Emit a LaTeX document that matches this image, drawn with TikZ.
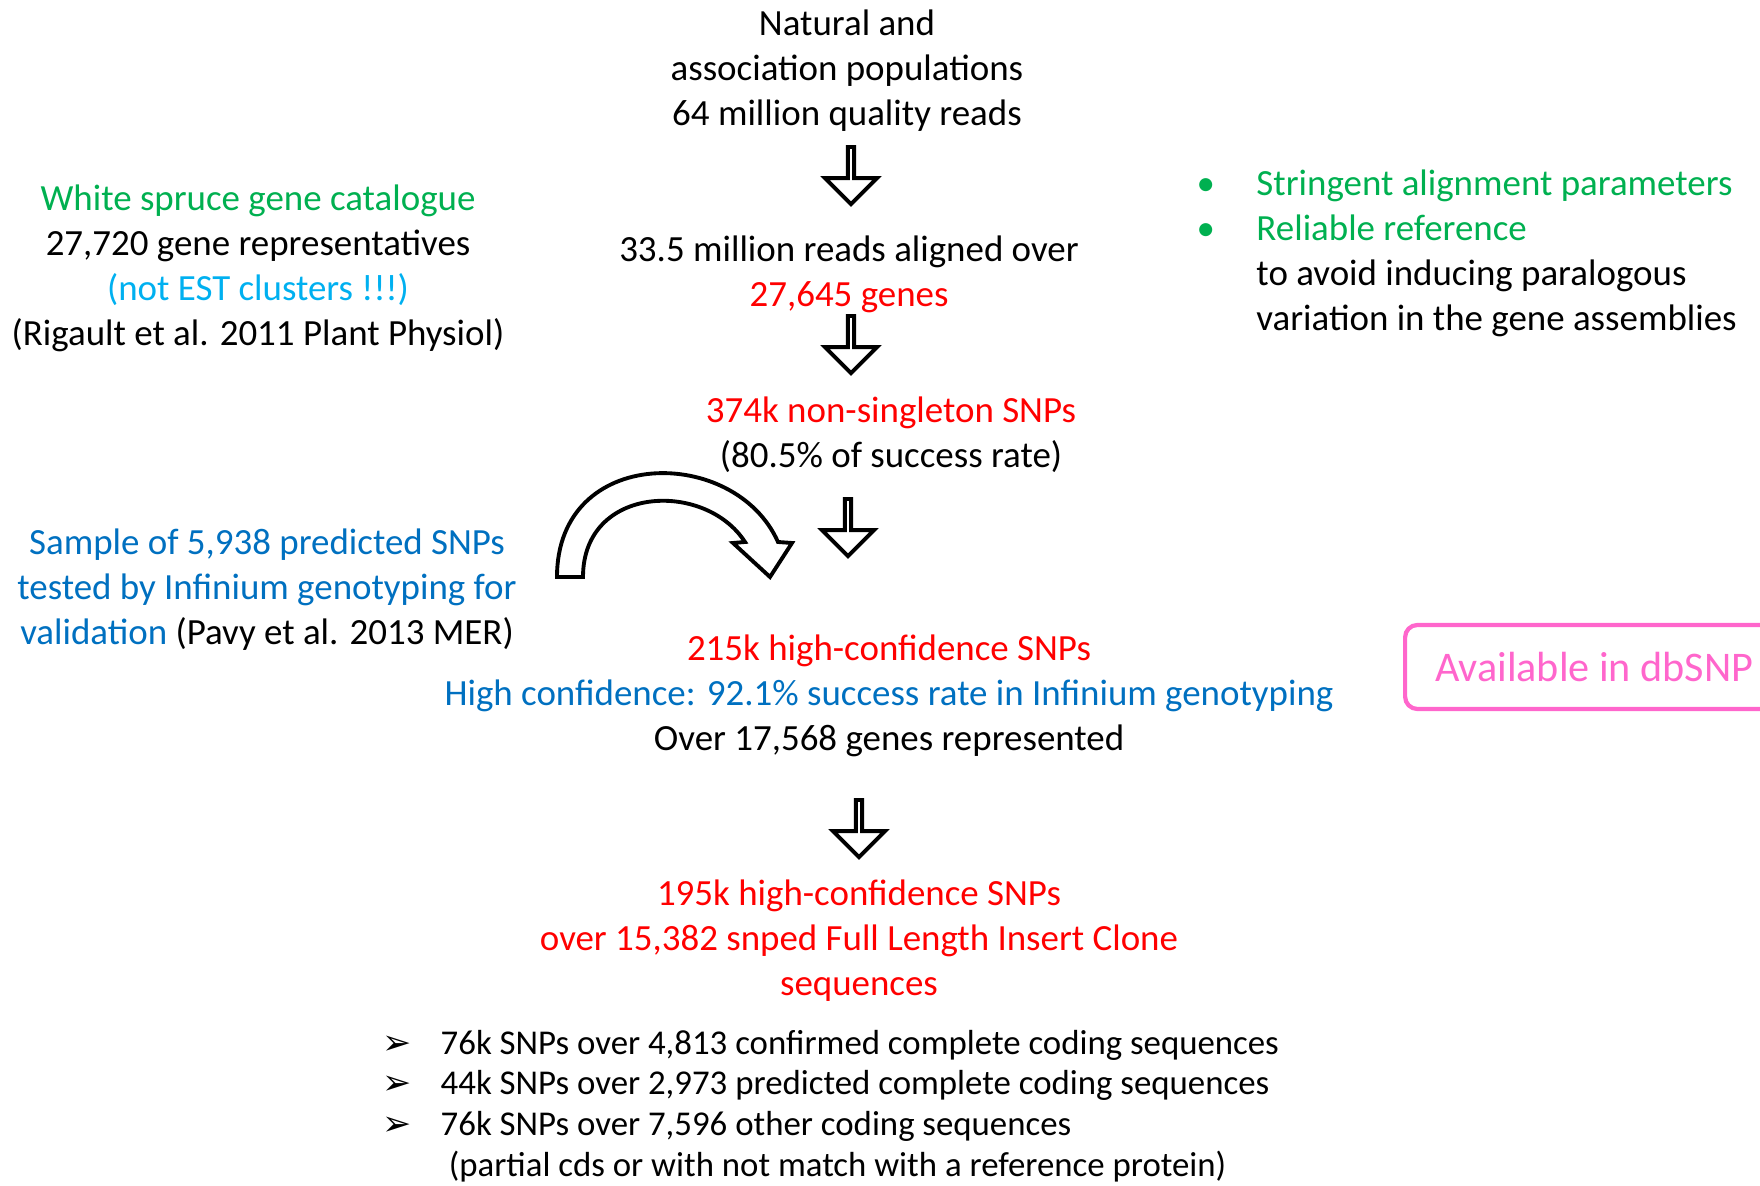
\documentclass[tikz,border=0pt]{standalone}
\usepackage{fontspec}
\setmainfont{Carlito}
\newfontfamily\symfont{DejaVu Sans}
\usetikzlibrary{positioning,shapes.arrows}
\definecolor{snpred}{HTML}{FF0000}
\definecolor{catgreen}{HTML}{00B050}
\definecolor{estcyan}{HTML}{00B0F0}
\definecolor{infblue}{HTML}{0070C0}
\definecolor{dbpink}{HTML}{FF66CC}
\newcommand{\gbul}{\makebox[17pt][l]{\textcolor{catgreen}{\textbullet}}}
\newcommand{\abul}{\makebox[16.5pt][l]{\symfont ➢}}

\begin{document}
\begin{tikzpicture}
  [
  x=0.01cm, y=-0.01cm,
  txt/.style={align=center,inner sep=0pt,font=\fontsize{10.5pt}{12.8pt}\selectfont},
  txtleft/.style={align=left,inner sep=0pt,anchor=west,font=\fontsize{10.5pt}{12.8pt}\selectfont},
  downarr/.style={single arrow,shape border rotate=270,draw=black,fill=white,line width=1.1pt,
    minimum height=0.57cm,minimum width=0.52cm,single arrow head extend=0.14cm,inner sep=0pt},
  dbbox/.style={draw=dbpink,line width=1.2pt,rounded corners=3.5pt,text=dbpink,anchor=west,
    inner xsep=8.5pt,minimum height=0.84cm,font=\fontsize{12pt}{14pt}\selectfont}
  ]
  \clip (0,0) rectangle (1760,1186);

  % main pipeline
  \node (pop)  [txt] at (847,71) {Natural and\\association populations\\64 million quality reads};
  \node (arr1) [downarr] at (851,174) {};
  \node (aln)  [txt] at (849,274) {33.5 million reads aligned over\\\textcolor{snpred}{27,645 genes}};
  \node (arr2) [downarr] at (851,343) {};
  \node (raw)  [txt] at (891,435) {\textcolor{snpred}{374k non-singleton SNPs}\\(80.5\% of success rate)};
  \node (arr3) [downarr] at (848,526) {};
  \node (hc)   [txt] at (889,696) {
    \textcolor{snpred}{215k high-confidence SNPs}\\
    \textcolor{infblue}{High confidence: 92.1\% success rate in Infinium genotyping}\\
    Over 17,568 genes represented
  };
  \node (arr4) [downarr] at (859,827) {};
  \node (flic) [txt,text=snpred] at (859,941) {
    195k high-confidence SNPs\\over 15,382 snped Full Length Insert Clone\\sequences
  };
  \node (cds)  [txtleft,font=\fontsize{9.9pt}{11.6pt}\selectfont] at (382,1106) {
    \abul 76k SNPs over 4,813 confirmed complete coding sequences\\
    \abul 44k SNPs over 2,973 predicted complete coding sequences\\
    \abul 76k SNPs over 7,596 other coding sequences\\
    \hspace*{18.8pt}(partial cds or with not match with a reference protein)
  };

  % side notes
  \node (cat)  [txt] at (258,268) {
    \textcolor{catgreen}{White spruce gene catalogue}\\
    27,720 gene representatives\\
    \textcolor{estcyan}{(not EST clusters !!!)}\\
    (Rigault et al. 2011 Plant Physiol)
  };
  \node (crit) [txtleft] at (1196,253) {
    \gbul\textcolor{catgreen}{Stringent alignment parameters}\\
    \gbul\textcolor{catgreen}{Reliable reference}\\
    \hspace*{17pt}to avoid inducing paralogous\\
    \hspace*{17pt}variation in the gene assemblies
  };
  \node (smp)  [txt] at (267,590) {
    \textcolor{infblue}{Sample of 5,938 predicted SNPs}\\
    \textcolor{infblue}{tested by Infinium genotyping for}\\
    \textcolor{infblue}{validation} (Pavy et al. 2013 MER)
  };
  \node (dbsnp) [dbbox] at (1403,667) {Available in dbSNP};

  % curved arrow from the sample to the validation step
  \draw [line width=1.1pt,fill=white,line join=miter]
    (557,577) -- (583,577) .. controls (583,485) and (705,480) .. (745,542)
    -- (733,543) -- (770,577) -- (792,543) -- (778,542)
    .. controls (735,445) and (557,445) .. (557,577) -- cycle;
\end{tikzpicture}
\end{document}
